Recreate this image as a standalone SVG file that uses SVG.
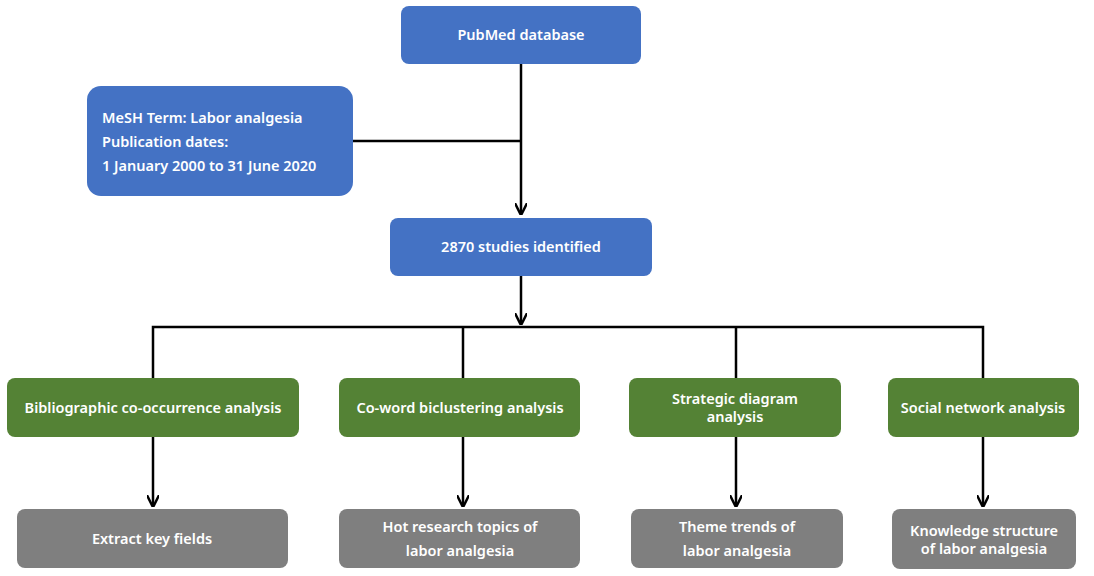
<svg xmlns="http://www.w3.org/2000/svg" width="1094" height="576" viewBox="0 0 1094 576">
<style>
.b{fill:#4472C4}.g{fill:#548235}.y{fill:#7F7F7F}
text{font-family:"Noto Sans","Liberation Sans",sans-serif;font-size:14.5px;font-weight:600;fill:#fff}
.c{text-anchor:middle}
.l{stroke:#000;stroke-width:2.5;fill:none}
</style>
<defs><marker id="a" viewBox="0 0 10 10" refX="9" refY="5" markerWidth="5" markerHeight="5" orient="auto" markerUnits="strokeWidth"><path d="M0,0 L10,5 L0,10" fill="none" stroke="#000" stroke-width="2"/></marker></defs>
<rect width="1094" height="576" fill="#fff"/>
<g id="connectors" class="l">
<path d="M521,64 V214" marker-end="url(#a)"/>
<path d="M353,141 H521"/>
<path d="M521,276 V324" marker-end="url(#a)"/>
<path d="M153,378 V327 H983 V378 M463,327 V378 M736,327 V378"/>
<path d="M153,437 V506" marker-end="url(#a)"/>
<path d="M463,437 V506" marker-end="url(#a)"/>
<path d="M736,437 V506" marker-end="url(#a)"/>
<path d="M983,437 V506" marker-end="url(#a)"/>
</g>
<g id="pubmed"><rect class="b" x="401" y="6" width="240" height="58" rx="8"/><text class="c" x="521" y="40">PubMed database</text></g>
<g id="mesh"><rect class="b" x="87" y="86" width="266" height="110" rx="14"/><text x="102" y="123">MeSH Term: Labor analgesia</text><text x="102" y="147">Publication dates:</text><text x="102" y="171">1 January  2000 to 31 June 2020</text></g>
<g id="studies"><rect class="b" x="390" y="218" width="262" height="58" rx="8"/><text class="c" x="521" y="252">2870 studies  identified</text></g>
<g id="g1"><rect class="g" x="7" y="378" width="292" height="59" rx="8"/><text class="c" x="153" y="413">Bibliographic co-occurrence analysis</text></g>
<g id="g2"><rect class="g" x="339" y="378" width="241" height="59" rx="8"/><text class="c" x="460" y="413">Co-word biclustering analysis</text></g>
<g id="g3"><rect class="g" x="629" y="378" width="212" height="59" rx="8"/><text class="c" x="735" y="404">Strategic diagram</text><text class="c" x="735" y="422">analysis</text></g>
<g id="g4"><rect class="g" x="888" y="378" width="191" height="59" rx="8"/><text class="c" x="983" y="413">Social network analysis</text></g>
<g id="y1"><rect class="y" x="17" y="509" width="271" height="59" rx="8"/><text class="c" x="152" y="544">Extract key fields</text></g>
<g id="y2"><rect class="y" x="339" y="509" width="241" height="59" rx="8"/><text class="c" x="460" y="532">Hot research topics of</text><text class="c" x="460" y="556">labor analgesia</text></g>
<g id="y3"><rect class="y" x="631" y="509" width="212" height="59" rx="8"/><text class="c" x="737" y="532">Theme trends of</text><text class="c" x="737" y="556">labor analgesia</text></g>
<g id="y4"><rect class="y" x="892" y="509" width="184" height="60" rx="8"/><text class="c" x="984" y="536">Knowledge structure</text><text class="c" x="984" y="554">of labor analgesia</text></g>
</svg>
